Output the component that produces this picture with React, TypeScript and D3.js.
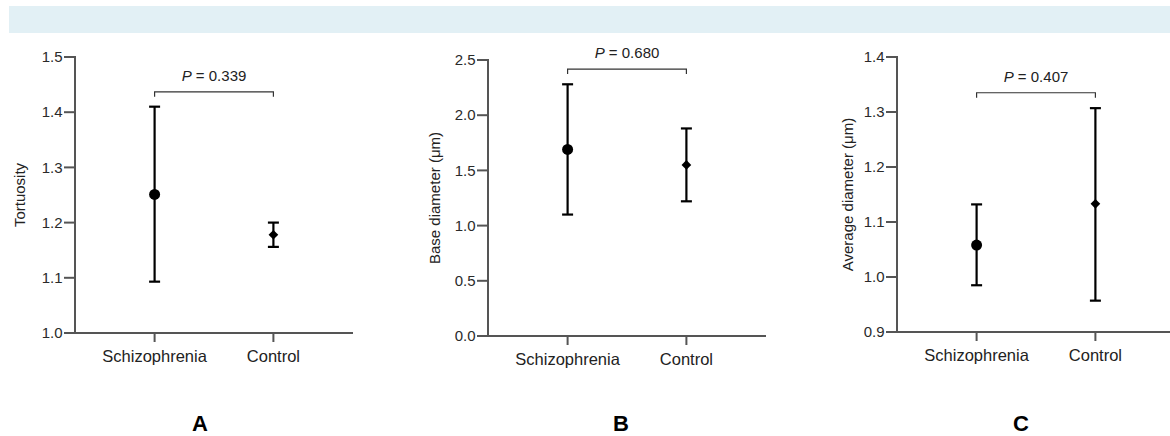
import React from "react";
import * as d3 from "d3";

const groups = ["Schizophrenia", "Control"];

// mean, lower, upper per group
const tortuosity = [
  { mean: 1.251, low: 1.093, high: 1.41 },
  { mean: 1.178, low: 1.156, high: 1.2 },
];
const baseDiameter = [
  { mean: 1.69, low: 1.1, high: 2.28 },
  { mean: 1.55, low: 1.22, high: 1.88 },
];
const avgDiameter = [
  { mean: 1.058, low: 0.985, high: 1.132 },
  { mean: 1.133, low: 0.957, high: 1.307 },
];

const pValues = ["0.339", "0.680", "0.407"];
const bracketLevels = [1.437, 2.418, 1.335];
const yDomains: [number, number][] = [
  [1.0, 1.5],
  [0, 2.5],
  [0.9, 1.4],
];
const yLabels = ["Tortuosity", "Base diameter (\u03bcm)", "Average diameter (\u03bcm)"];
const panelLetters = ["A", "B", "C"];

const FONT = "'Liberation Sans', Arial, sans-serif";
const AXIS = "#555";

const panels = [
  { data: tortuosity, left: 75, top: 57, bottom: 333, labelX: 20, letterX: 200 },
  { data: baseDiameter, left: 488, top: 60, bottom: 336, labelX: 435, letterX: 621 },
  { data: avgDiameter, left: 897, top: 57, bottom: 332, labelX: 848, letterX: 1021 },
];

const Panel: React.FC<{ i: number }> = ({ i }) => {
  const p = panels[i];
  const width = 278;
  const x = d3
    .scalePoint<string>()
    .domain(groups)
    .range([p.left, p.left + width])
    .padding(0.67);
  const y = d3.scaleLinear().domain(yDomains[i]).range([p.bottom, p.top]);
  const ticks = y.ticks(5);
  const fmt = d3.format(".1f");
  const by = y(bracketLevels[i]);
  const x0 = x(groups[0])!;
  const x1 = x(groups[1])!;
  const diamond = d3.symbol().type(d3.symbolDiamond2).size(60)();
  const cap = 5.5;

  return (
    <g>
      {/* y axis */}
      <line x1={p.left} x2={p.left} y1={p.top - 1} y2={p.bottom} stroke={AXIS} strokeWidth={2} />
      {ticks.map((t) => (
        <g key={t}>
          <line x1={p.left - 11} x2={p.left} y1={y(t)} y2={y(t)} stroke={AXIS} strokeWidth={2} />
          <text
            x={p.left - 12.5}
            y={y(t)}
            dy="0.35em"
            textAnchor="end"
            fontSize={15}
            fill="#2a2a2a"
            fontFamily={FONT}
          >
            {fmt(t)}
          </text>
        </g>
      ))}
      {/* x axis */}
      <line x1={p.left - 11} x2={p.left + width} y1={p.bottom} y2={p.bottom} stroke={AXIS} strokeWidth={2} />
      {groups.map((g) => (
        <g key={g}>
          <line x1={x(g)} x2={x(g)} y1={p.bottom} y2={p.bottom + 9} stroke={AXIS} strokeWidth={2} />
          <text
            x={x(g)}
            y={p.bottom + 29}
            textAnchor="middle"
            fontSize={16.5}
            fill="#222"
            fontFamily={FONT}
          >
            {g}
          </text>
        </g>
      ))}
      {/* y label */}
      <text
        transform={`translate(${p.labelX},${(p.top + p.bottom) / 2}) rotate(-90)`}
        dy="0.35em"
        textAnchor="middle"
        fontSize={15}
        fill="#222"
        fontFamily={FONT}
      >
        {yLabels[i]}
      </text>
      {/* error bars and means */}
      {p.data.map((d, k) => {
        const cx = x(groups[k])!;
        return (
          <g key={k}>
            <line x1={cx} x2={cx} y1={y(d.low)} y2={y(d.high)} stroke="#000" strokeWidth={2.2} />
            <line x1={cx - cap} x2={cx + cap} y1={y(d.low)} y2={y(d.low)} stroke="#000" strokeWidth={2.2} />
            <line x1={cx - cap} x2={cx + cap} y1={y(d.high)} y2={y(d.high)} stroke="#000" strokeWidth={2.2} />
            {k === 0 ? (
              <circle cx={cx} cy={y(d.mean)} r={5.5} fill="#000" />
            ) : (
              <path d={diamond!} transform={`translate(${cx},${y(d.mean)})`} fill="#000" />
            )}
          </g>
        );
      })}
      {/* significance bracket */}
      <path
        d={`M${x0},${by + 5}V${by}H${x1}V${by + 5}`}
        fill="none"
        stroke="#333"
        strokeWidth={1.2}
      />
      <text
        x={(x0 + x1) / 2}
        y={by - 11}
        textAnchor="middle"
        fontSize={15}
        fill="#222"
        fontFamily={FONT}
      >
        <tspan fontStyle="italic">P</tspan> = {pValues[i]}
      </text>
      {/* panel letter */}
      <text
        x={p.letterX}
        y={431}
        textAnchor="middle"
        fontSize={22}
        fontWeight="bold"
        fill="#000"
        fontFamily={FONT}
      >
        {panelLetters[i]}
      </text>
    </g>
  );
};

export default function App() {
  return (
    <svg
      width={1170}
      height={436}
      style={{ position: "absolute", left: 0, top: 0, background: "#fff" }}
    >
      <rect x={9} y={6} width={1161} height={27} fill="#e2f0f5" />
      {panels.map((_, i) => (
        <Panel key={i} i={i} />
      ))}
    </svg>
  );
}
